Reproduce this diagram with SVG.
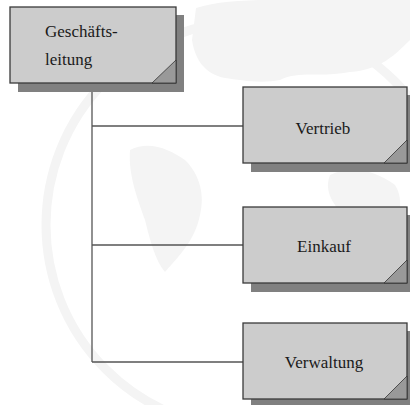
<svg xmlns="http://www.w3.org/2000/svg" width="410" height="405" viewBox="0 0 410 405">
  <style>
    .box { fill: #cccccc; stroke: #3a3a3a; stroke-width: 1.3; }
    .shadow { fill: #808080; }
    .corner { fill: #999999; stroke: #333333; stroke-width: 0.8; }
    .conn { stroke: #555555; stroke-width: 1.3; fill: none; }
    .land { fill: #f4f4f4; }
  </style>
  <rect width="410" height="405" fill="#ffffff"/>
  <!-- faint globe watermark -->
  <g id="watermark">
    <circle cx="250" cy="225" r="204" fill="none" stroke="#f4f4f4" stroke-width="9"/>
    <path class="land" d="M196 8 C215 2 240 0 270 0 L410 0 L410 40 C395 55 380 70 350 72 C320 78 300 70 280 80 C260 84 240 80 225 78 C205 74 195 60 192 40 Z"/>
    <path class="land" d="M130 150 C150 140 170 150 185 160 C200 175 205 195 200 215 C195 240 180 255 165 272 C155 260 150 240 145 220 C138 200 128 175 130 150 Z"/>
    <path class="land" d="M330 175 C350 165 375 170 395 185 C405 200 400 225 385 235 C365 240 345 225 335 205 C328 195 326 185 330 175 Z"/>
  </g>
  <g id="connectors">
    <path class="conn" d="M92 83 V362"/>
    <path class="conn" d="M92 126 H243"/>
    <path class="conn" d="M92 245 H243"/>
    <path class="conn" d="M92 362 H243"/>
  </g>
  <g font-family="'Liberation Serif', 'Times New Roman', serif" font-size="17" fill="#1a1a1a">
    <g id="geschaeftsleitung">
      <rect class="shadow" x="18" y="15" width="166" height="77"/>
      <rect class="box" x="10" y="7" width="166" height="76"/>
      <polygon class="corner" points="176,60 176,83 152,83"/>
      <text x="45" y="37">Geschäfts-</text>
      <text x="45" y="65">leitung</text>
    </g>
    <g id="vertrieb">
      <rect class="shadow" x="251" y="95" width="166" height="77"/>
      <rect class="box" x="243" y="87" width="164" height="76"/>
      <polygon class="corner" points="407,140 407,163 384,163"/>
      <text x="323" y="134" text-anchor="middle">Vertrieb</text>
    </g>
    <g id="einkauf">
      <rect class="shadow" x="251" y="215" width="166" height="77"/>
      <rect class="box" x="243" y="207" width="164" height="76"/>
      <polygon class="corner" points="407,260 407,283 384,283"/>
      <text x="324" y="252" text-anchor="middle">Einkauf</text>
    </g>
    <g id="verwaltung">
      <rect class="shadow" x="251" y="331" width="166" height="77"/>
      <rect class="box" x="243" y="323" width="164" height="76"/>
      <polygon class="corner" points="407,376 407,399 384,399"/>
      <text x="324" y="368" text-anchor="middle">Verwaltung</text>
    </g>
  </g>
</svg>
